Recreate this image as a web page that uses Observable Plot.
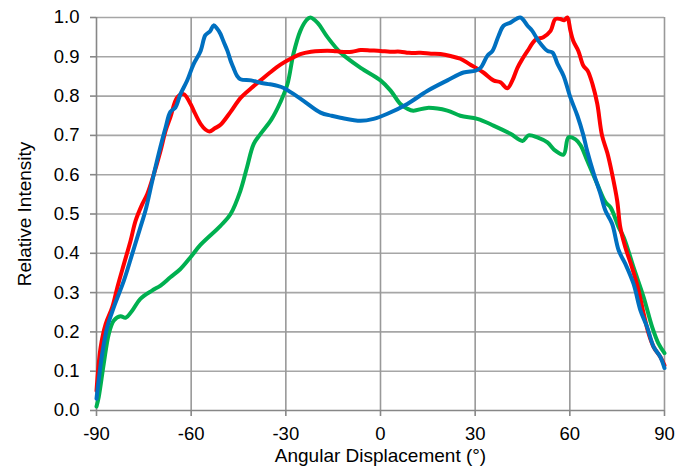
<!DOCTYPE html>
<html>
<head>
<meta charset="utf-8">
<script src="https://cdn.jsdelivr.net/npm/d3@7"></script>
<script src="https://cdn.jsdelivr.net/npm/@observablehq/plot@0.6"></script>
<style>
  html, body { margin: 0; padding: 0; background: #fff; }
  #chart svg { display: block; }
</style>
</head>
<body>
<div id="chart"></div>
<script>
// ---- data ----
const redAngle = [-90,-88.7,-87.1,-85,-83.4,-81.3,-79.2,-77.6,-75.5,-73.9,-71.8,-69.7,-68.1,-66.6,-64.4,-62.4,-60.2,-59.2,-57,-55.5,-54.2,-52.5,-50.7,-47.5,-44.4,-41,-38,-35,-31.7,-28.5,-25.4,-22,-19,-15,-12.7,-9,-6.3,-3,0,3,6.3,9,12.7,16,19,22.2,25.3,28.5,32.6,35.8,38,40.2,41.8,43.4,45,46.6,49.1,51.6,53.9,55.4,57,58.2,59.2,60.2,61.1,62.7,64.3,65.6,67.2,68.7,70.2,71.9,73.4,75,76,77.6,79.7,81.8,83.4,85,86.6,88.7,90];
const redValue = [0.05,0.16,0.22,0.263,0.313,0.373,0.432,0.483,0.525,0.551,0.602,0.661,0.712,0.746,0.797,0.805,0.78,0.763,0.729,0.715,0.71,0.718,0.727,0.76,0.795,0.82,0.84,0.86,0.88,0.895,0.907,0.913,0.915,0.915,0.913,0.913,0.917,0.916,0.915,0.913,0.913,0.91,0.91,0.908,0.907,0.902,0.895,0.88,0.86,0.84,0.835,0.82,0.84,0.872,0.895,0.915,0.943,0.95,0.966,0.996,0.996,0.993,1.0,0.966,0.94,0.915,0.877,0.865,0.83,0.78,0.70,0.655,0.602,0.534,0.466,0.415,0.364,0.305,0.246,0.195,0.161,0.136,0.115];

const blueAngle = [-90,-88.2,-86.6,-84.5,-81.3,-78.7,-76.1,-74.5,-72.3,-70.3,-68.1,-66.6,-65,-63.4,-61.3,-59.3,-57,-55.5,-54,-52.9,-51.8,-50.7,-49.8,-48.5,-47.5,-46.6,-45.5,-44.4,-41,-38,-35,-32.6,-30.5,-28.5,-24.4,-19,-15.5,-12.7,-6.3,-2.2,2.2,8.5,14.8,21.2,26.3,30.1,31.7,33.9,35.5,37.4,39,41.2,44.3,46.6,48.1,50.1,52.9,54.5,56.1,58,60.2,62.4,64.3,65.5,67.6,69.7,71.3,73.4,75.5,77.6,80.2,82.4,84.5,86.6,88.7,90];
const blueValue = [0.03,0.144,0.212,0.263,0.331,0.398,0.466,0.508,0.585,0.653,0.72,0.76,0.771,0.805,0.839,0.88,0.915,0.955,0.965,0.98,0.972,0.958,0.94,0.915,0.89,0.872,0.852,0.843,0.84,0.834,0.83,0.826,0.82,0.81,0.788,0.758,0.75,0.745,0.737,0.742,0.755,0.78,0.813,0.84,0.86,0.865,0.872,0.903,0.915,0.953,0.979,0.987,1.0,0.979,0.966,0.94,0.915,0.911,0.882,0.852,0.796,0.75,0.70,0.66,0.602,0.551,0.508,0.475,0.407,0.373,0.322,0.254,0.212,0.161,0.136,0.108];

const greenAngle = [-90,-89.3,-87.7,-86.1,-84.5,-82.4,-80.8,-78.7,-76.1,-72.4,-69.7,-66.6,-63.4,-60.2,-57,-50.7,-47.5,-44.4,-42.3,-40.2,-38,-34.6,-31.7,-29.5,-27.6,-25.4,-23.5,-22.2,-20,-16.8,-12.7,-6.3,0,3.2,6.3,8.5,10.4,14.8,21.2,25.3,30.7,35.8,41.2,45,46.9,49.7,52.9,55.4,58,59.6,61.8,63.4,65.5,68.7,71.3,72.9,75.5,77.1,80.2,83.4,86.1,88.1,90];
const greenValue = [0.01,0.034,0.119,0.195,0.229,0.24,0.236,0.254,0.284,0.305,0.318,0.339,0.36,0.39,0.422,0.47,0.5,0.559,0.619,0.678,0.704,0.74,0.785,0.83,0.907,0.966,0.993,1.0,0.987,0.95,0.911,0.872,0.84,0.814,0.78,0.768,0.763,0.77,0.763,0.75,0.742,0.725,0.704,0.686,0.7,0.695,0.682,0.661,0.651,0.695,0.69,0.675,0.636,0.576,0.53,0.517,0.466,0.44,0.364,0.288,0.212,0.17,0.146];

const xTicks = [-90,-60,-30,0,30,60,90];
const yTicks = [0,0.1,0.2,0.3,0.4,0.5,0.6,0.7,0.8,0.9,1.0];
const xTitle = "Angular Displacement (°)";
const yTitle = "Relative Intensity";

const toRows = (xs, ys) => xs.map((x, i) => ({x, y: ys[i]}));
const red = toRows(redAngle, redValue);
const blue = toRows(blueAngle, blueValue);
const green = toRows(greenAngle, greenValue);

const font = "'Liberation Sans', Arial, sans-serif";
const lineOpts = {x: "x", y: "y", strokeWidth: 4, curve: "catmull-rom", strokeLinejoin: "round", strokeLinecap: "round"};

const chart = Plot.plot({
  width: 692,
  height: 473,
  marginTop: 17,
  marginRight: 28,
  marginBottom: 63,
  marginLeft: 96,
  style: {fontFamily: font, fontSize: "18px", color: "#000", background: "#fff"},
  x: {domain: [-90, 90]},
  y: {domain: [0, 1]},
  marks: [
    Plot.ruleY(yTicks.filter(d => d > 0), {stroke: "#a6a6a6", strokeWidth: 1.6}),
    Plot.ruleX(xTicks.filter(d => d > -90), {stroke: "#999", strokeWidth: 1.6}),
    Plot.ruleX([-90], {stroke: "#878787", strokeWidth: 1.6}),
    Plot.ruleY([0], {stroke: "#878787", strokeWidth: 1.6}),
    Plot.axisX({ticks: xTicks, tickSize: 6, tickPadding: 10, stroke: "#878787", strokeWidth: 1.6, label: null, fontSize: 18.5, tickFormat: d => String(d)}),
    Plot.axisY({ticks: yTicks, tickSize: 6, tickPadding: 11, stroke: "#878787", strokeWidth: 1.6, label: null, fontSize: 18.5, tickFormat: d3.format(".1f")}),
    Plot.line(green, {...lineOpts, stroke: "#00b050"}),
    Plot.line(red, {...lineOpts, stroke: "#ff0000"}),
    Plot.line(blue, {...lineOpts, stroke: "#0070c0"}),
    Plot.text([xTitle], {frameAnchor: "bottom", lineAnchor: "middle", textAnchor: "middle", dy: 45, fontSize: 19, fill: "#000"}),
    Plot.text([yTitle], {frameAnchor: "left", lineAnchor: "middle", textAnchor: "middle", dx: -72, rotate: -90, fontSize: 19, fill: "#000"})
  ]
});
document.getElementById("chart").appendChild(chart);
</script>
</body>
</html>
